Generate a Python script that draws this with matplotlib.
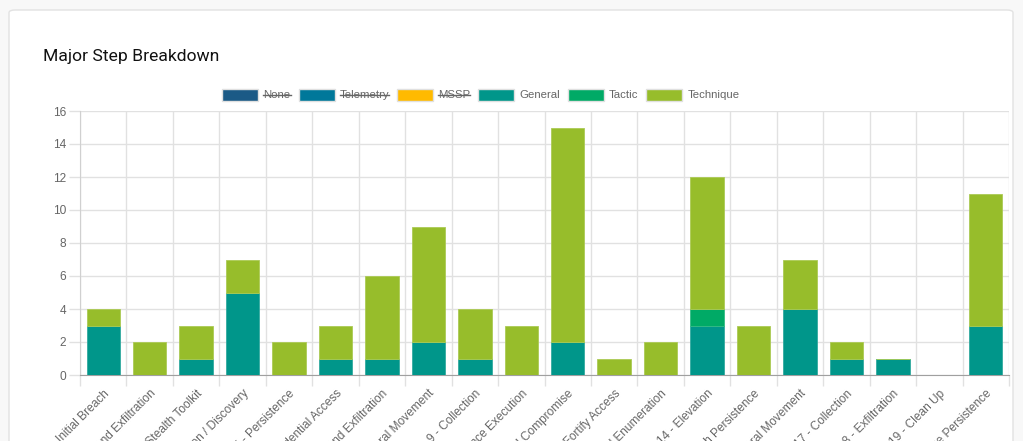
import numpy as np
import matplotlib
matplotlib.use("Agg")
import matplotlib.pyplot as plt
from matplotlib.patches import FancyBboxPatch, Rectangle
from matplotlib.lines import Line2D

# steps of the evaluation
steps = ["1 - Initial Breach", "2 - Rapid Collection and Exfiltration",
         "3 - Deploy Stealth Toolkit", "4 - Defense Evasion / Discovery",
         "5 - Persistence", "6 - Credential Access",
         "7 - Collection and Exfiltration", "8 - Lateral Movement",
         "9 - Collection", "10 - Persistence Execution",
         "11 - Initial Compromise", "12 - Fortify Access",
         "13 - Local Enumeration", "14 - Elevation",
         "15 - Establish Persistence", "16 - Lateral Movement",
         "17 - Collection", "18 - Exfiltration", "19 - Clean Up",
         "20 - Leverage Persistence"]

general = [3, 0, 1, 5, 0, 1, 1, 2, 1, 0, 2, 0, 0, 3, 0, 4, 1, 1, 0, 3]
tactic = [0, 0, 0, 0, 0, 0, 0, 0, 0, 0, 0, 0, 0, 1, 0, 0, 0, 0, 0, 0]
technique = [1, 2, 2, 2, 2, 2, 5, 7, 3, 3, 13, 1, 2, 8, 3, 3, 1, 0, 0, 8]

series_names = ["None", "Telemetry", "MSSP", "General", "Tactic", "Technique"]
series_colors = ["#1b5a86", "#00789a", "#ffba00", "#00968a", "#00aa66", "#97bd2b"]
hidden = [True, True, True, False, False, False]

W, H = 1023, 441
fig = plt.figure(figsize=(W / 100, H / 100), dpi=100, facecolor="#f8f8f8")

# card background
card = FancyBboxPatch((9 / W, -0.2), 1004 / W, (H - 10) / H + 0.2,
                      boxstyle="round,pad=0,rounding_size=0.006",
                      transform=fig.transFigure, facecolor="white",
                      edgecolor="#e2e2e2", linewidth=1, zorder=-5)
fig.patches.append(card)

fig.text(43 / W, 1 - 57 / H, "Major Step Breakdown", fontsize=12.6,
         family="Roboto", color="#111111", va="center", ha="left")

left, right, top, bottom = 80, 1009, 111, 375
ax = fig.add_axes([left / W, 1 - bottom / H, (right - left) / W, (bottom - top) / H])
ax.set_facecolor("none")

x = np.arange(len(steps))
bw = 0.72
ax.bar(x, general, bw, color=series_colors[3], edgecolor="#33aaa0", linewidth=0.6, zorder=3)
ax.bar(x, tactic, bw, bottom=general, color=series_colors[4], edgecolor="#33bb85", linewidth=0.6, zorder=3)
base = np.array(general) + np.array(tactic)
ax.bar(x, technique, bw, bottom=base, color=series_colors[5], edgecolor="#acca55", linewidth=0.6, zorder=3)

ax.set_xlim(-0.5, len(steps) - 0.5)
ax.set_ylim(0, 16)
ax.set_yticks(range(0, 17, 2))
ax.set_xticks(x)
ax.set_xticklabels(steps, rotation=45, ha="right", rotation_mode="anchor",
                   fontsize=8.6, family="Liberation Sans", color="#666666")
ax.set_xticks(np.arange(-0.5, len(steps)), minor=True)
ax.tick_params(axis="x", which="major", length=0, pad=9)
ax.tick_params(axis="x", which="minor", length=8, color="#e1e1e1", width=1)
ax.tick_params(axis="y", length=8, color="#e1e1e1", width=1, pad=2,
               labelsize=8.6, labelcolor="#666666")
for lab in ax.get_yticklabels():
    lab.set_family("Liberation Sans")

ax.grid(True, axis="y", color="#e1e1e1", linewidth=1, zorder=0)
ax.grid(True, axis="x", which="minor", color="#e1e1e1", linewidth=1, zorder=0)
ax.grid(False, axis="x", which="major")
for s in ["top", "right"]:
    ax.spines[s].set_visible(False)
ax.spines["left"].set_color("#d0d0d0")
ax.spines["bottom"].set_color("#a0a0a0")

# legend drawn by hand (hidden series are struck through)
fig.canvas.draw()
renderer = fig.canvas.get_renderer()
box_w, box_h, gap, item_gap = 36, 12, 5, 8
texts = []
widths = []
for name in series_names:
    t = fig.text(0, 0, name, fontsize=8.2, family="Liberation Sans", color="#666666")
    bb = t.get_window_extent(renderer)
    texts.append(t)
    widths.append(bb.width)
total = sum(box_w + gap + w for w in widths) + item_gap * (len(widths) - 1)
cx = 481
xpos = cx - total / 2
ly = 95
for name, col, hid, t, w in zip(series_names, series_colors, hidden, texts, widths):
    r = Rectangle((xpos / W, 1 - (ly + box_h / 2) / H), box_w / W, box_h / H,
                  transform=fig.transFigure, facecolor=col, edgecolor="#e0e0e0",
                  linewidth=1)
    fig.patches.append(r)
    tx = xpos + box_w + gap
    t.set_position((tx / W, 1 - ly / H))
    t.set_va("center")
    if hid:
        fig.lines.append(Line2D([tx / W, (tx + w) / W], [1 - ly / H, 1 - ly / H],
                                transform=fig.transFigure, color="#666666", linewidth=1))
    xpos = tx + w + item_gap

fig.savefig("out.png", dpi=100, facecolor=fig.get_facecolor())
